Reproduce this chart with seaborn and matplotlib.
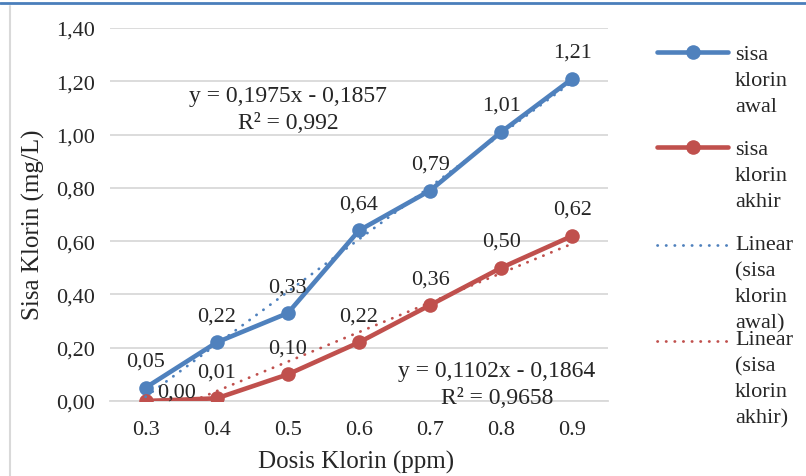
import numpy as np
import matplotlib
matplotlib.use("Agg")
import matplotlib.pyplot as plt
from matplotlib.lines import Line2D
import seaborn as sns

#-----------------------------------------------------------------------
# Data
dosis = ["0.3", "0.4", "0.5", "0.6", "0.7", "0.8", "0.9"]
sisa_awal = [0.05, 0.22, 0.33, 0.64, 0.79, 1.01, 1.21]
sisa_akhir = [0.00, 0.01, 0.10, 0.22, 0.36, 0.50, 0.62]
y_ticks = [0.0, 0.2, 0.4, 0.6, 0.8, 1.0, 1.2, 1.4]
eq_awal = "y = 0,1975x - 0,1857\nR² = 0,992"
eq_akhir = "y = 0,1102x - 0,1864\nR² = 0,9658"
legend_labels = ["sisa\nklorin\nawal", "sisa\nklorin\nakhir",
                 "Linear\n(sisa\nklorin\nawal)", "Linear\n(sisa\nklorin\nakhir)"]

BLUE = "#4F81BD"
RED = "#C0504D"
GRID = "#D9D9D9"

# figure pixel helpers
W, H = 806, 477
def fx(x):
    return x / W
def fy(y):
    return 1 - y / H

sns.set_style("white")
plt.rcParams["font.family"] = ["Liberation Serif", "DejaVu Serif"]

fig = plt.figure(figsize=(W / 100, H / 100), dpi=100)
ax = fig.add_axes([fx(110), fy(402), (608 - 110) / W, (402 - 29) / H])

pos = np.arange(len(dosis))
line_kw = dict(marker="o", markersize=10.5, linewidth=3.3, markeredgewidth=0)
dot_kw = dict(linewidth=2.0, linestyle=(0, (0.1, 3.0)), dash_capstyle="round")

# series lines
sns.lineplot(x=pos, y=sisa_awal, color=BLUE, ax=ax, zorder=3, **line_kw)
sns.lineplot(x=pos, y=sisa_akhir, color=RED, ax=ax, zorder=3, **line_kw)

# linear trendlines
sns.regplot(x=pos, y=sisa_awal, scatter=False, ci=None, truncate=True, ax=ax,
            color=BLUE, line_kws=dict(zorder=4, **dot_kw))
sns.regplot(x=pos, y=sisa_akhir, scatter=False, ci=None, truncate=True, ax=ax,
            color=RED, line_kws=dict(zorder=4, **dot_kw))

# data labels
for i, v in enumerate(sisa_awal):
    ax.annotate(f"{v:.2f}".replace(".", ","), (pos[i], v), xytext=(0, 15.8),
                textcoords="offset points", ha="center", va="baseline",
                fontsize=16, zorder=6)
for i, v in enumerate(sisa_akhir):
    if i == 0:
        off, ha = (8.6, 2.9), "left"
    else:
        off, ha = (0, 15.8), "center"
    ax.annotate(f"{v:.2f}".replace(".", ","), (pos[i], v), xytext=off,
                textcoords="offset points", ha=ha, va="baseline",
                fontsize=16, zorder=6)

# axes styling
ax.set_xlim(-0.5, len(dosis) - 0.5)
ax.set_ylim(0, 1.4)
ax.set_xticks(pos)
ax.set_xticklabels(dosis)
ax.set_xticks(np.arange(-0.5, len(dosis), 1), minor=True)
ax.set_yticks(y_ticks)
ax.set_yticklabels([f"{t:.2f}".replace(".", ",") for t in y_ticks])
ax.tick_params(axis="x", which="major", length=0, pad=14, labelsize=16)
ax.tick_params(axis="x", which="minor", length=4.3, width=1, color=GRID, direction="out")
ax.tick_params(axis="y", length=0, pad=11, labelsize=16)
ax.yaxis.grid(True, color=GRID, linewidth=1.3)
ax.set_axisbelow(True)
ax.set_xlabel("")
ax.set_ylabel("")
for s in ["left", "right", "top"]:
    ax.spines[s].set_visible(False)
ax.spines["bottom"].set_color(GRID)
ax.spines["bottom"].set_linewidth(1.3)

# trendline equations
fig.text(fx(288), fy(110), eq_awal, ha="center", va="center", fontsize=17, linespacing=1.36)
fig.text(fx(497), fy(385), eq_akhir, ha="center", va="center", fontsize=17, linespacing=1.36)

# axis titles
fig.text(fx(356), fy(462), "Dosis Klorin (ppm)", ha="center", va="center", fontsize=18)
fig.text(fx(33), fy(225), "Sisa Klorin (mg/L)", ha="center", va="center",
         rotation=90, fontsize=18)

# legend (Excel style: handle on first text line, fixed slots)
handle_y = [53, 148, 246, 342]
text_top = [46, 141, 236, 331]
styles = [
    dict(color=BLUE, **line_kw),
    dict(color=RED, **line_kw),
    dict(color=BLUE, **dot_kw),
    dict(color=RED, **dot_kw),
]
for hy, ty, lab, st in zip(handle_y, text_top, legend_labels, styles):
    fig.add_artist(Line2D([fx(657), fx(692.5), fx(728)], [fy(hy)] * 3,
                          transform=fig.transFigure, markevery=[1], **st))
    fig.text(fx(735), fy(ty), lab, ha="left", va="top", fontsize=16, linespacing=1.5)

# page decorations
fig.add_artist(Line2D([0, 1], [fy(3.5)] * 2, transform=fig.transFigure,
                      color="#4A7EBB", linewidth=2))
fig.add_artist(Line2D([fx(9.5)] * 2, [fy(7), 0], transform=fig.transFigure,
                      color=GRID, linewidth=1.5))

fig.savefig("out.png", dpi=100)
plt.close()
